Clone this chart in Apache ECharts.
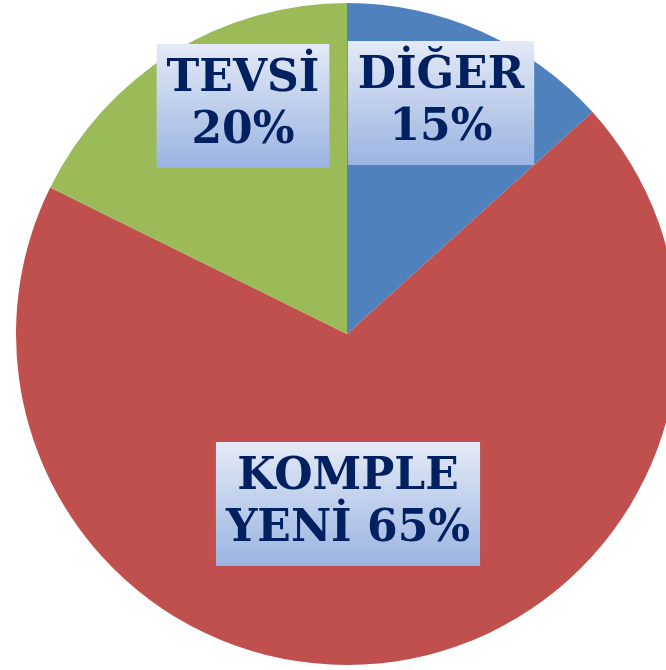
<!DOCTYPE html>
<html>
<head>
<meta charset="utf-8">
<script src="https://cdn.jsdelivr.net/npm/echarts@6/dist/echarts.min.js"></script>
<style>
  html, body { margin: 0; padding: 0; background: #fff; }
  #chartContainer { width: 666px; height: 670px; }
</style>
</head>
<body>
<div id="chartContainer"></div>
<script>
// pie data, clockwise from 12 o'clock
var names = ['DİĞER', 'KOMPLE YENİ', 'TEVSİ'];
// slice sizes as drawn in the picture
var sliceValues = [13.3, 69.0, 17.7];
// percentages printed on the labels
var labelPercents = [15, 65, 20];
var colors = ['#4F81BD', '#C0504D', '#9BBB59'];
// where each label box sits (centre, px)
var labelSpots = [[441, 103], [348, 504], [243, 106]];

var myChart = echarts.init(document.getElementById('chartContainer'), null, { renderer: 'canvas' });

var boxFill = new echarts.graphic.LinearGradient(0, 0, 0, 1, [
    { offset: 0, color: '#E4EAF6' },
    { offset: 1, color: '#9AB4E2' }
]);

function labelText(p) {
    var pct = labelPercents[p.dataIndex] + '%';
    var parts = p.name.split(' ');
    if (parts.length > 1) {
        return parts[0] + '\n' + parts.slice(1).join(' ') + ' ' + pct;
    }
    return p.name + '\n' + pct;
}

myChart.setOption({
    animation: false,
    series: [{
        type: 'pie',
        center: [347, 334],
        radius: 331,
        startAngle: 90,
        clockwise: true,
        data: names.map(function (n, i) {
            return { name: n, value: sliceValues[i], itemStyle: { color: colors[i] } };
        }),
        itemStyle: { borderWidth: 0 },
        label: {
            show: true,
            position: 'inside',
            formatter: labelText,
            fontFamily: 'DejaVu Serif',
            fontWeight: 'bold',
            fontSize: 44,
            lineHeight: 52,
            color: '#002060',
            align: 'center',
            backgroundColor: boxFill,
            padding: [10, 10, 10, 10]
        },
        labelLine: { show: false },
        labelLayout: function (params) {
            var s = labelSpots[params.dataIndex];
            return { x: s[0], y: s[1], align: 'center', verticalAlign: 'middle' };
        },
        emphasis: { disabled: true }
    }]
});
</script>
</body>
</html>
